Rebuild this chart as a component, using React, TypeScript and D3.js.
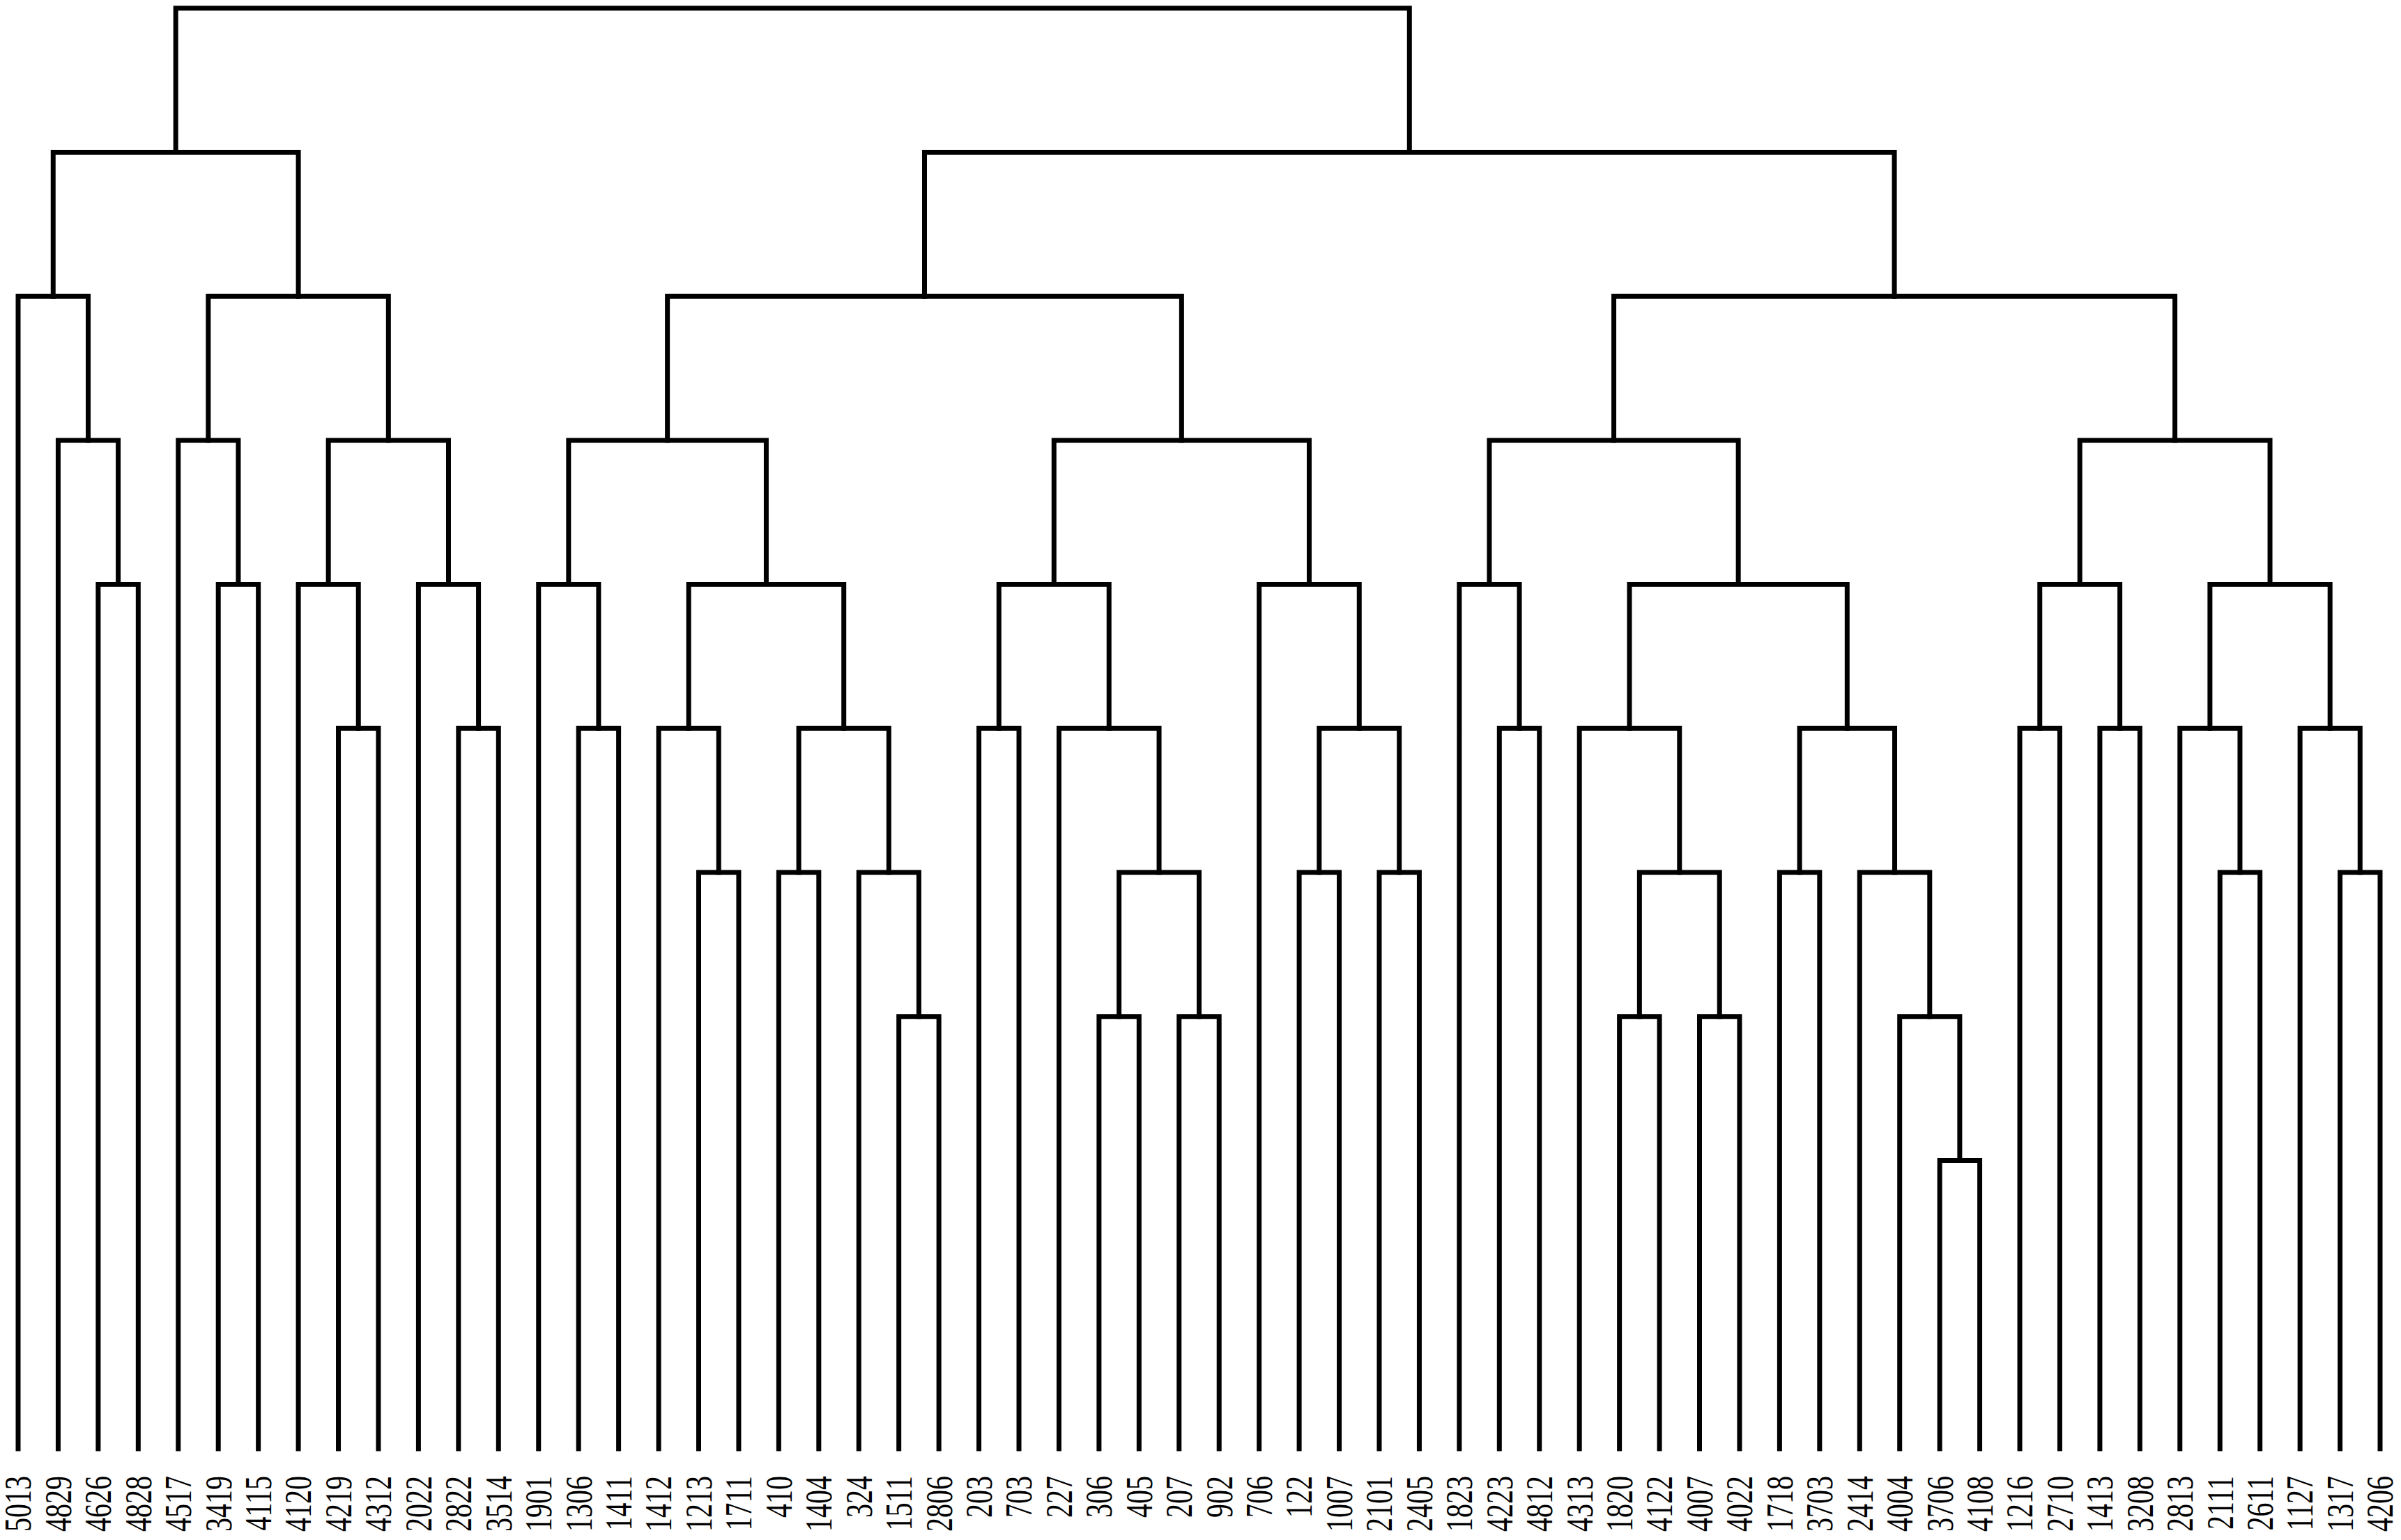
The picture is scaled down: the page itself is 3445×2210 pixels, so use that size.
import React, { useEffect, useRef } from "react";
import * as d3 from "d3";

// leaves, left to right
const leafLabels = [
  "5013", "4829", "4626", "4828", "4517", "3419", "4115", "4120", "4219", "4312",
  "2022", "2822", "3514", "1901", "1306", "1411", "1412", "1213", "1711", "410",
  "1404", "324", "1511", "2806", "203", "703", "227", "306", "405", "207",
  "902", "706", "122", "1007", "2101", "2405", "1823", "4223", "4812", "4313",
  "1820", "4122", "4007", "4022", "1718", "3703", "2414", "4004", "3706", "4108",
  "1216", "2710", "1413", "3208", "2813", "2111", "2611", "1127", "1317", "4206",
];

// hclust style: negative = leaf number (1-based), positive = earlier merge (1-based)
const mergePairs: [number, number][] = [
  [-49, -50], [-48, 1], [-23, -24], [-28, -29], [-30, -31], [-41, -42], [-43, -44],
  [-18, -19], [-20, -21], [-22, 3], [4, 5], [-33, -34], [-35, -36], [6, 7],
  [-45, -46], [-47, 2], [-56, -57], [-59, -60],
  [-9, -10], [-12, -13], [-15, -16], [-17, 8], [9, 10], [-25, -26], [-27, 11],
  [12, 13], [-38, -39], [-40, 14], [15, 16], [-51, -52], [-53, -54], [-55, 17],
  [-58, 18],
  [-3, -4], [-6, -7], [-8, 19], [-11, 20], [-14, 21], [22, 23], [24, 25],
  [-32, 26], [-37, 27], [28, 29], [30, 31], [32, 33],
  [-2, 34], [-5, 35], [36, 37], [38, 39], [40, 41], [42, 43], [44, 45],
  [-1, 46], [47, 48], [49, 50], [51, 52],
  [53, 54], [55, 56],
  [57, 58],
];

const mergeHeights = [
  1, 2, 2, 2, 2, 2, 2,
  3, 3, 3, 3, 3, 3, 3, 3, 3, 3, 3,
  4, 4, 4, 4, 4, 4, 4, 4, 4, 4, 4, 4, 4, 4, 4,
  5, 5, 5, 5, 5, 5, 5, 5, 5, 5, 5, 5,
  6, 6, 6, 6, 6, 6, 6,
  7, 7, 7, 7,
  8, 8,
  9,
];

const leafHeight = -1;

type TreeNode = { name: string; height: number; children?: TreeNode[] };

function buildTree(): TreeNode {
  const built: TreeNode[] = [];
  const ref = (i: number): TreeNode =>
    i < 0 ? { name: leafLabels[-i - 1], height: leafHeight } : built[i - 1];
  mergePairs.forEach(([a, b], i) => {
    built.push({ name: `m${i + 1}`, height: mergeHeights[i], children: [ref(a), ref(b)] });
  });
  return built[built.length - 1];
}

const Dendrogram = () => {
  const svgRef = useRef<SVGSVGElement>(null);

  useEffect(() => {
    const width = 3445;
    const height = 2210;

    const svg = d3.select(svgRef.current);
    svg.selectAll("*").remove();
    svg.attr("width", width).attr("height", height);

    const x = d3.scalePoint<string>().domain(leafLabels).range([26, 3415]);
    const y = d3.scaleLinear().domain([leafHeight, 9]).range([2079, 11.7]);

    const root = d3.hierarchy<TreeNode>(buildTree());
    const pos = new Map<any, number>();
    root.eachAfter((n) => {
      if (!n.children) pos.set(n, x(n.data.name) as number);
      else pos.set(n, d3.mean(n.children, (c) => pos.get(c)) as number);
    });

    svg
      .append("g")
      .selectAll("path")
      .data(root.descendants().filter((d) => d.children))
      .join("path")
      .attr("d", (d) => {
        const [l, r] = d.children!;
        return `M${pos.get(l)},${y(l.data.height)}V${y(d.data.height)}H${pos.get(r)}V${y(r.data.height)}`;
      })
      .attr("fill", "none")
      .attr("stroke", "#000")
      .attr("stroke-width", 7)
      .attr("stroke-linejoin", "miter")
      .attr("stroke-linecap", "square");

    svg
      .append("g")
      .selectAll("text")
      .data(root.leaves())
      .join("text")
      .attr("transform", (d) => `translate(${pos.get(d)},2118) rotate(-90) scale(0.74,1)`)
      .attr("text-anchor", "end")
      .attr("dy", "0.34em")
      .style("font-family", "'Liberation Serif', 'Times New Roman', serif")
      .style("font-size", "54px")
      .style("fill", "#000")
      .text((d) => d.data.name);
  }, []);

  return (
    <svg
      ref={svgRef}
      style={{ position: "absolute", left: 0, top: 0, display: "block", background: "#fff" }}
    ></svg>
  );
};

export default function App() {
  return <Dendrogram />;
}
